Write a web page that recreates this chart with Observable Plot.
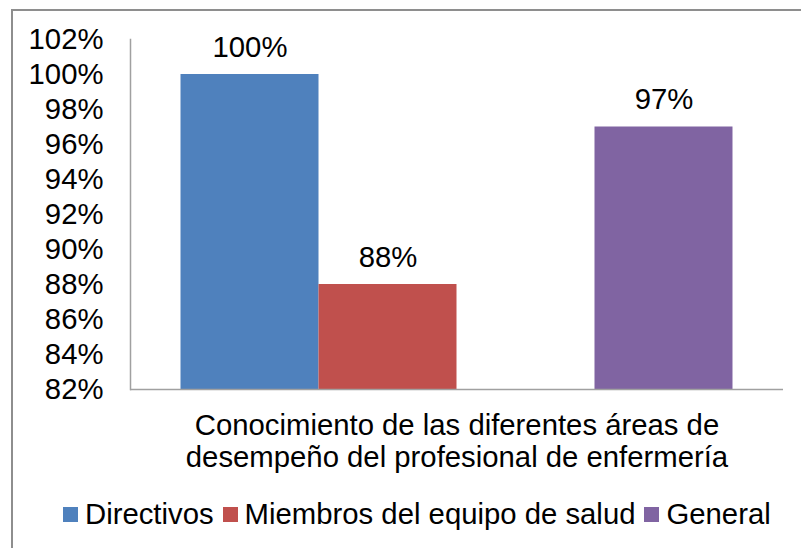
<!DOCTYPE html>
<html>
<head>
<meta charset="utf-8">
<script src="https://cdn.jsdelivr.net/npm/d3@7"></script>
<script src="https://cdn.jsdelivr.net/npm/@observablehq/plot@0.6"></script>
<style>
  html, body { margin: 0; padding: 0; background: #fff; overflow: hidden; width: 801px; height: 548px; }
  body { position: relative; font-family: "Liberation Sans", Arial, sans-serif; }
  #border { position: absolute; left: 11px; top: 9px; width: 900px; height: 700px; border: 2px solid #8e8e8e; box-sizing: border-box; }
  #chart { position: absolute; left: 0; top: 0; }
  #legend { position: absolute; left: 63px; top: 497px; }
  .leg-swatches { font-family: "Liberation Sans", Arial, sans-serif !important; font-size: 29.3px !important; color: #000; margin: 0 !important; }
  .leg-swatch { margin-right: 9px !important; }
  .leg-swatch > svg { margin-right: 7px !important; }
</style>
</head>
<body>
<div id="border"></div>
<div id="chart"></div>
<div id="legend"></div>
<script>
// Data
const categoria = ["Conocimiento de las diferentes áreas de\ndesempeño del profesional de enfermería"];
const series = ["Directivos", "Miembros del equipo de salud", "General"];
const valores = [1.00, 0.88, 0.97];
const colores = ["#4f81bd", "#c0504d", "#8064a2"];
const ranuras = ["Directivos", "Miembros del equipo de salud", "(sin serie)", "General"];
const yDominio = [0.82, 1.02];
const yTicks = [0.82, 0.84, 0.86, 0.88, 0.90, 0.92, 0.94, 0.96, 0.98, 1.00, 1.02];

const datos = series.map((s, i) => ({categoria: categoria[0], serie: s, valor: valores[i]}));
const pct = d => `${Math.round(d * 100)}%`;
const font = "Liberation Sans, Arial, sans-serif";
const fs = 29.3;

const chart = Plot.plot({
  width: 801,
  height: 480,
  marginLeft: 130,
  marginRight: 18,
  marginTop: 39,
  marginBottom: 91,
  style: {fontFamily: font, fontSize: `${fs}px`, color: "#000", background: "transparent", overflow: "visible"},
  fx: {domain: categoria, padding: 0},
  x: {domain: ranuras, paddingInner: 0, paddingOuter: 0.366, round: false, axis: null},
  y: {domain: yDominio, ticks: yTicks, tickFormat: pct},
  color: {domain: series, range: colores},
  marks: [
    Plot.frame({anchor: "left", stroke: "#a0a0a0", strokeWidth: 1.5}),
    Plot.axisY({ticks: yTicks, tickFormat: pct, tickSize: 0, tickPadding: 27, fontSize: fs, label: null}),
    Plot.axisFx({anchor: "bottom", tickSize: 0, tickPadding: 23, fontSize: fs, lineHeight: 1.09, label: null}),
    Plot.barY(datos, {fx: "categoria", x: "serie", y1: yDominio[0], y2: "valor", fill: "serie"}),
    Plot.ruleY([yDominio[0]], {stroke: "#a0a0a0", strokeWidth: 1.5}),
    Plot.text(datos, {fx: "categoria", x: "serie", y: "valor", text: d => pct(d.valor), lineAnchor: "bottom", dy: -18, fontSize: fs, fill: "#000"})
  ]
});
document.getElementById("chart").appendChild(chart);

const leg = Plot.legend({
  color: {domain: series, range: colores},
  legend: "swatches",
  swatchSize: 15,
  className: "leg",
  style: {fontFamily: font, fontSize: `${fs}px`}
});
document.getElementById("legend").appendChild(leg);
</script>
</body>
</html>
